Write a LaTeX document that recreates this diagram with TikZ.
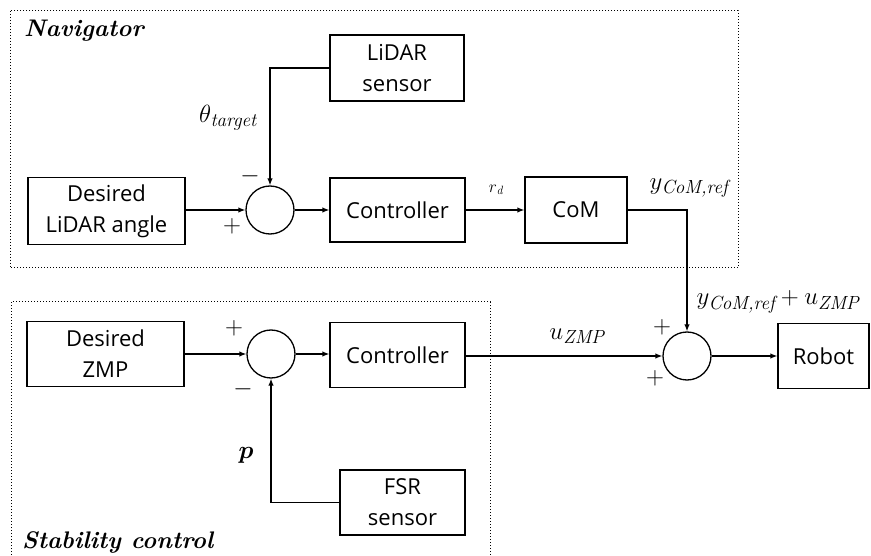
\documentclass[tikz,border=0pt]{standalone}
\usepackage{amsmath,bm}
\usepackage{fontspec}
\setsansfont{Open Sans}
\newcommand\sbx[2][19]{\text{\fontsize{#1}{#1}\selectfont\itshape #2}}
\usetikzlibrary{arrows.meta}
\begin{document}
\begin{tikzpicture}[x=1pt,y=-1pt,
  blk/.style={draw,line width=1.3pt,minimum width=#1,inner sep=0pt,align=center,
    font=\sffamily\fontsize{22}{31}\selectfont},
  sumc/.style={draw,circle,line width=1.3pt,minimum size=48pt,inner sep=0pt},
  con/.style={line width=1.3pt,-{Latex[length=7pt,width=5.5pt]}},
  lab/.style={font=\fontsize{24}{28}\selectfont},
  sgn/.style={font=\fontsize{24}{28}\selectfont,inner sep=0pt},
  grp/.style={dotted,line width=1pt},
  ttl/.style={font=\fontsize{24}{28}\selectfont\bfseries\itshape,anchor=west,inner sep=0pt}]
\useasboundingbox (0,0) rectangle (871,556);
% group frames
\draw[grp] (10,11) rectangle (738,268);
\draw[grp] (11,558) -- (11,302) -- (490,302) -- (490,558);
\node[ttl] (tnav) at (24,31) {Navigator};
\node[ttl] (tstab) at (22,542) {Stability control};
% blocks
\node[blk=134pt,minimum height=66pt] (lidar) at (397,68) {LiDAR\\sensor};
\node[blk=157pt,minimum height=67pt] (des1) at (106.5,211) {Desired\\LiDAR angle};
\node[sumc] (sum1) at (270,210) {};
\node[blk=135pt,minimum height=64pt] (ctrl1) at (397.5,210) {Controller};
\node[blk=102pt,minimum height=66pt] (com) at (576,210) {CoM};
\node[sumc] (sum2) at (687,356) {};
\node[blk=91pt,minimum height=65pt] (robot) at (823.5,356) {Robot};
\node[blk=157pt,minimum height=65pt] (des2) at (105.5,354) {Desired\\ZMP};
\node[sumc] (sum3) at (271,354) {};
\node[blk=135pt,minimum height=65pt] (ctrl2) at (397.5,355) {Controller};
\node[blk=125pt,minimum height=65pt] (fsr) at (402.5,502.5) {FSR\\sensor};
% connectors
\draw[con] (lidar.west) -| (sum1.north);
\draw[con] (des1.east |- sum1.west) -- (sum1.west);
\draw[con] (sum1.east) -- (ctrl1.west);
\draw[con] (ctrl1.east) -- (com.west);
\draw[con] (com.east) -| (sum2.north);
\draw[con] (sum2.east) -- (robot.west);
\draw[con] (des2.east |- sum3.west) -- (sum3.west);
\draw[con] (sum3.east) -- (ctrl2.west |- sum3.east);
\draw[con] (ctrl2.east |- sum2.west) -- (sum2.west);
\draw[con] (fsr.west) -| (sum3.south);
% labels
\node[lab] (lth) at (228,118) {$\theta_{\sbx{target}}$};
\node[sgn] (m1) at (250,176) {$-$};
\node[sgn] (p1) at (232,226) {$+$};
\node[lab,font=\fontsize{17}{20}\selectfont] (lrd) at (496,190) {$r_{\sbx[12]{d}}$};
\node[lab] (lyc) at (689,188) {$y_{\sbx{CoM,ref}}$};
\node[lab] (lsum) at (778,302) {$y_{\sbx{CoM,ref}}+u_{\sbx{ZMP}}$};
\node[lab] (luz) at (577,336) {$u_{\sbx{ZMP}}$};
\node[sgn] (p2) at (662,327) {$+$};
\node[sgn] (p3) at (655,378) {$+$};
\node[sgn] (p4) at (234,328) {$+$};
\node[sgn] (m2) at (243,389) {$-$};
\node[lab] (lp) at (246,455) {$\bm{p}$};
\end{tikzpicture}
\end{document}
